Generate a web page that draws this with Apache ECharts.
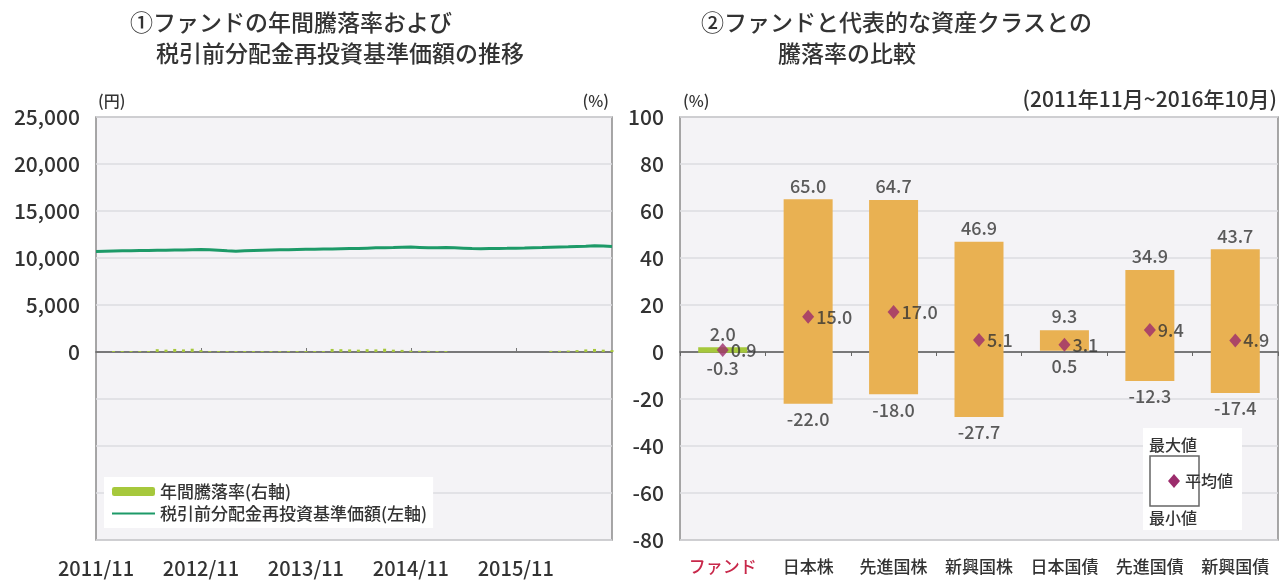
<!DOCTYPE html>
<html><head><meta charset="utf-8">
<script src="https://cdn.jsdelivr.net/npm/echarts@6/dist/echarts.min.js"></script>
<style>html,body{margin:0;padding:0;background:#fff}#c{width:1282px;height:581px}</style>
</head><body><div id="c"></div>
<script>
// ---- Left chart data ----
const months = [
 '2011/11','2011/12','2012/01','2012/02','2012/03','2012/04','2012/05','2012/06','2012/07','2012/08','2012/09','2012/10',
 '2012/11','2012/12','2013/01','2013/02','2013/03','2013/04','2013/05','2013/06','2013/07','2013/08','2013/09','2013/10',
 '2013/11','2013/12','2014/01','2014/02','2014/03','2014/04','2014/05','2014/06','2014/07','2014/08','2014/09','2014/10',
 '2014/11','2014/12','2015/01','2015/02','2015/03','2015/04','2015/05','2015/06','2015/07','2015/08','2015/09','2015/10',
 '2015/11','2015/12','2016/01','2016/02','2016/03','2016/04','2016/05','2016/06','2016/07','2016/08','2016/09','2016/10'
];
const leftTickLabels = ['2011/11','2012/11','2013/11','2014/11','2015/11'];
const navValues = [
 10700,10720,10740,10760,10780,10790,10800,10820,10830,10850,10860,10880,
 10900,10870,10820,10760,10720,10760,10800,10830,10850,10870,10880,10900,
 10920,10940,10950,10960,10980,11000,11020,11050,11080,11100,11120,11150,
 11160,11120,11080,11100,11130,11100,11050,11000,10980,11000,11020,11030,
 11050,11070,11100,11120,11150,11180,11200,11230,11260,11300,11280,11220
];
const annualReturns = [
 null,null,0.4,0.4,0.4,0.4,0.4,1.2,1.0,1.3,1.1,1.4,
 0.8,0.4,0.4,0.4,0.4,0.4,0.4,0.4,0.4,0.4,0.4,0.4,
 0.4,0.4,0.4,1.3,1.2,1.1,1.0,1.2,1.1,1.4,1.0,0.9,
 0.6,0.5,0.5,0.4,0.4,null,null,null,null,null,null,null,
 null,null,null,null,0.5,0.5,0.6,0.8,1.1,1.3,1.0,0.8
];
const yenTicks = [-20000, 25000, 5000];   // min, max, interval
const pctTicks = [-80, 100, 20];          // min, max, interval

// ---- Right chart data ----
const categories = ['ファンド','日本株','先進国株','新興国株','日本国債','先進国債','新興国債'];
const maxVals = [2.0, 65.0, 64.7, 46.9, 9.3, 34.9, 43.7];
const minVals = [-0.3, -22.0, -18.0, -27.7, 0.5, -12.3, -17.4];
const avgVals = [0.9, 15.0, 17.0, 5.1, 3.1, 9.4, 4.9];

const FONT = '"Noto Sans CJK JP", "Noto Sans", sans-serif';
const TXT = '#333333';
const ORANGE = '#e9b152';
const GREEN_BAR = '#a6c83c';
const LINE_GREEN = '#1d9a68';
const DIAMOND = '#9c2c6c';
const GRID_BG = '#f4f3f6';
const SPLIT = '#dcdce0';
const W = 500;

const chart = echarts.init(document.getElementById('c'));
const fmt1 = p => Number(p.value).toFixed(1);
const font = s => W + ' ' + s + 'px ' + FONT;

const option = {
  animation: false,
  textStyle: { fontFamily: FONT, color: TXT, fontWeight: W },
  grid: [
    { left: 96, right: 670, top: 117, height: 423, show: true, backgroundColor: GRID_BG, borderColor: '#8a8a8a', borderWidth: 1.5 },
    { left: 680, right: 4, top: 117, height: 423, show: true, backgroundColor: GRID_BG, borderColor: '#8a8a8a', borderWidth: 1.5 }
  ],
  legend: {
    left: 104, top: 477, orient: 'vertical',
    backgroundColor: '#ffffff', padding: [6, 6, 6, 7], itemGap: 5,
    itemWidth: 43, itemHeight: 9,
    textStyle: { fontFamily: FONT, fontSize: 17, color: TXT, fontWeight: W },
    data: [
      { name: '年間騰落率(右軸)' },
      { name: '税引前分配金再投資基準価額(左軸)', itemStyle: { opacity: 0, borderWidth: 0 } }
    ]
  },
  xAxis: [
    { type: 'category', gridIndex: 0, data: months, boundaryGap: false,
      axisLine: { show: false },
      axisTick: { show: true, inside: true, length: 4, interval: i => i % 12 === 0 && i > 0, lineStyle: { color: '#777' } },
      axisLabel: { interval: (i, v) => leftTickLabels.includes(v), fontSize: 20, color: TXT, margin: 18, fontFamily: FONT, fontWeight: W },
      splitLine: { show: false } },
    { type: 'category', gridIndex: 0, data: months, boundaryGap: false, position: 'bottom',
      axisLine: { show: true, onZero: true, onZeroAxisIndex: 0, lineStyle: { color: '#555', width: 1.5 } },
      axisTick: { show: false }, axisLabel: { show: false }, splitLine: { show: false } },
    { type: 'category', gridIndex: 1, data: categories,
      axisLine: { show: false }, axisTick: { show: false },
      axisLabel: { interval: 0, fontSize: 17, margin: 18, fontFamily: FONT, fontWeight: W, color: (v, i) => i === 0 ? '#c8284a' : TXT },
      splitLine: { show: false } },
    { type: 'category', gridIndex: 1, data: categories, position: 'bottom',
      axisLine: { show: true, onZero: true, onZeroAxisIndex: 2, lineStyle: { color: '#555', width: 1.5 } },
      axisTick: { show: true, interval: 0, length: 4, lineStyle: { color: '#666' } },
      axisLabel: { show: false }, splitLine: { show: false } }
  ],
  yAxis: [
    { type: 'value', gridIndex: 0, min: yenTicks[0], max: yenTicks[1], interval: yenTicks[2],
      axisLine: { show: false }, axisTick: { show: false },
      axisLabel: { fontSize: 21, color: TXT, margin: 16, fontFamily: FONT, fontWeight: W,
        formatter: v => v < 0 ? '' : v.toLocaleString('en-US') },
      splitLine: { lineStyle: { color: SPLIT, width: 1.5 } } },
    { type: 'value', gridIndex: 0, position: 'right', min: pctTicks[0], max: pctTicks[1], interval: pctTicks[2],
      axisLine: { show: false }, axisTick: { show: false }, axisLabel: { show: false }, splitLine: { show: false } },
    { type: 'value', gridIndex: 1, min: pctTicks[0], max: pctTicks[1], interval: pctTicks[2],
      axisLine: { show: false }, axisTick: { show: false },
      axisLabel: { fontSize: 21, color: TXT, margin: 16, fontFamily: FONT, fontWeight: W },
      splitLine: { lineStyle: { color: SPLIT, width: 1.5 } } }
  ],
  series: [
    { name: '年間騰落率(右軸)', type: 'bar', xAxisIndex: 0, yAxisIndex: 1, data: annualReturns,
      barWidth: 3, itemStyle: { color: GREEN_BAR } },
    { name: '税引前分配金再投資基準価額(左軸)', type: 'line', xAxisIndex: 0, yAxisIndex: 0, data: navValues,
      symbol: 'none', lineStyle: { color: LINE_GREEN, width: 3 }, itemStyle: { color: LINE_GREEN } },

    { type: 'bar', xAxisIndex: 2, yAxisIndex: 2, stack: 'range', stackStrategy: 'all', data: minVals,
      barWidth: 49, itemStyle: { color: 'rgba(0,0,0,0)' }, silent: true },
    { type: 'bar', xAxisIndex: 2, yAxisIndex: 2, stack: 'range', stackStrategy: 'all',
      data: maxVals.map((v, i) => +(v - minVals[i]).toFixed(1)),
      barWidth: 49, itemStyle: { color: p => p.dataIndex === 0 ? GREEN_BAR : ORANGE } },
    { type: 'scatter', xAxisIndex: 2, yAxisIndex: 2, data: maxVals, symbolSize: 1,
      itemStyle: { color: 'rgba(0,0,0,0)' },
      label: { show: true, position: 'top', distance: 4, formatter: fmt1, fontSize: 18, color: TXT, fontFamily: FONT, fontWeight: W } },
    { type: 'scatter', xAxisIndex: 2, yAxisIndex: 2, data: minVals, symbolSize: 1,
      itemStyle: { color: 'rgba(0,0,0,0)' },
      label: { show: true, position: 'bottom', distance: 6, formatter: fmt1, fontSize: 18, color: TXT, fontFamily: FONT, fontWeight: W } },
    { type: 'scatter', xAxisIndex: 2, yAxisIndex: 2, data: avgVals, symbol: 'diamond', symbolSize: [12, 14],
      itemStyle: { color: DIAMOND },
      label: { show: true, position: 'right', distance: 2, formatter: fmt1, fontSize: 18, color: TXT, fontFamily: FONT, fontWeight: W } }
  ],
  graphic: [
    { type: 'text', x: 130, y: 22, style: { text: '①ファンドの年間騰落率および', font: font(23), fill: TXT, textVerticalAlign: 'middle' } },
    { type: 'text', x: 156, y: 53, style: { text: '税引前分配金再投資基準価額の推移', font: font(23), fill: TXT, textVerticalAlign: 'middle' } },
    { type: 'text', x: 701, y: 22, style: { text: '②ファンドと代表的な資産クラスとの', font: font(23), fill: TXT, textVerticalAlign: 'middle' } },
    { type: 'text', x: 778, y: 53, style: { text: '騰落率の比較', font: font(23), fill: TXT, textVerticalAlign: 'middle' } },
    { type: 'text', x: 98, y: 101, style: { text: '(円)', font: font(16), fill: TXT, textVerticalAlign: 'middle' } },
    { type: 'text', x: 609, y: 101, style: { text: '(%)', font: font(16), fill: TXT, textAlign: 'right', textVerticalAlign: 'middle' } },
    { type: 'text', x: 683, y: 101, style: { text: '(%)', font: font(16), fill: TXT, textVerticalAlign: 'middle' } },
    { type: 'text', x: 1277, y: 99, style: { text: '(2011年11月~2016年10月)', font: font(21), fill: TXT, textAlign: 'right', textVerticalAlign: 'middle' } },
    { type: 'rect', shape: { x: 1143, y: 428, width: 99, height: 102 }, style: { fill: '#ffffff' }, z: 10 },
    { type: 'rect', shape: { x: 1150, y: 456, width: 49, height: 50 }, style: { fill: '#ffffff', stroke: '#666', lineWidth: 1.5 }, z: 11 },
    { type: 'polygon', shape: { points: [[1174, 474], [1180, 481], [1174, 488], [1168, 481]] }, style: { fill: DIAMOND }, z: 12 },
    { type: 'text', x: 1149, y: 445, style: { text: '最大値', font: font(16), fill: TXT, textVerticalAlign: 'middle' }, z: 12 },
    { type: 'text', x: 1185, y: 481, style: { text: '平均値', font: font(16), fill: TXT, textVerticalAlign: 'middle' }, z: 12 },
    { type: 'text', x: 1149, y: 518, style: { text: '最小値', font: font(16), fill: TXT, textVerticalAlign: 'middle' }, z: 12 }
  ]
};
chart.setOption(option);
</script>
</body></html>
